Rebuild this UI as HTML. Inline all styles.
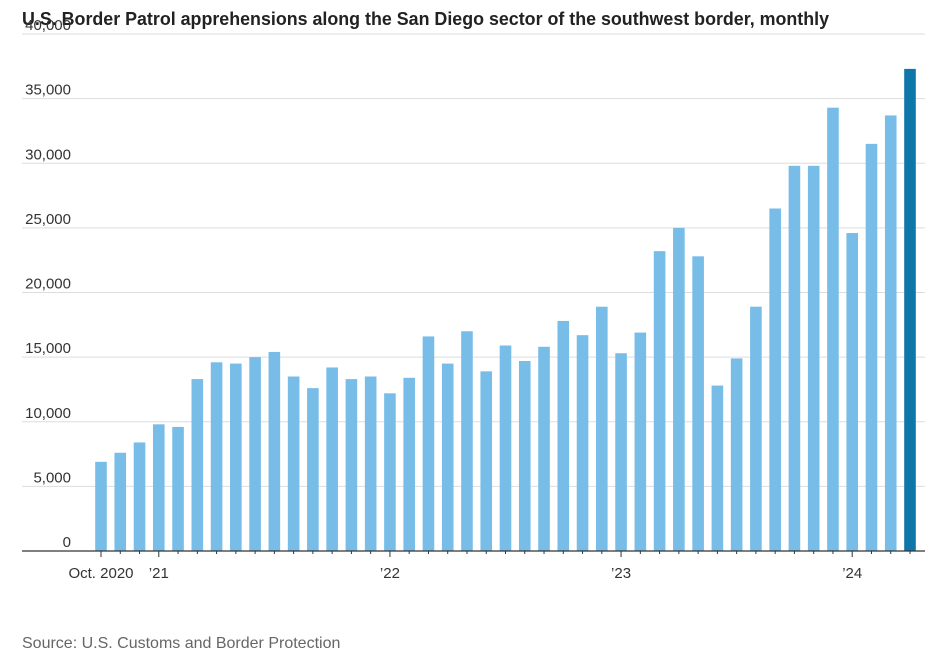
<!DOCTYPE html>
<html><head><meta charset="utf-8"><style>
body{margin:0;background:#fff;font-family:"Liberation Sans",sans-serif;}
svg text{font-family:"Liberation Sans",sans-serif;}
</style></head><body>
<svg id="chart" width="936" height="657" xmlns="http://www.w3.org/2000/svg">
<text x="22" y="25" font-size="18" font-weight="bold" fill="#222" textLength="807" lengthAdjust="spacingAndGlyphs">U.S. Border Patrol apprehensions along the San Diego sector of the southwest border, monthly</text>
<g id="grid"></g><g id="bars"></g><g id="xaxis"></g>
<text x="22" y="648" font-size="16" fill="#666">Source: U.S. Customs and Border Protection</text>
</svg>
<script>
const values=[6900,7600,8400,9800,9600,13300,14600,14500,15000,15400,13500,12600,14200,13300,13500,12200,13400,16600,14500,17000,13900,15900,14700,15800,17800,16700,18900,15300,16900,23200,25000,22800,12800,14900,18900,26500,29800,29800,34300,24600,31500,33700,37300];
const yTicks=[0,5000,10000,15000,20000,25000,30000,35000,40000];
const xLabels=[[0,"Oct. 2020"],[3,"\u201921"],[15,"\u201922"],[27,"\u201923"],[39,"\u201924"]];
const NS="http://www.w3.org/2000/svg";
const y0=551,yTop=34,yMax=40000;
const y=v=>y0-(v/yMax)*(y0-yTop);
const x=i=>101+i*(910-101)/42;
function mk(t,a,p){const e=document.createElementNS(NS,t);for(const k in a)e.setAttribute(k,a[k]);p.appendChild(e);return e;}
const grid=document.getElementById('grid');
yTicks.forEach(v=>{
 if(v>0){const l=mk('line',{x1:22,x2:925,y1:y(v),y2:y(v),stroke:'#ddd','stroke-width':1},grid);
 
 }
 const t=mk('text',{x:71,y:y(v)-4,'text-anchor':'end','font-size':15,fill:'#333'},grid);
 t.textContent=v.toLocaleString('en-US');
 
 
});
const bars=document.getElementById('bars');
values.forEach((v,i)=>{
 const r=mk('rect',{x:x(i)-5.8,y:y(v),width:11.6,height:y0-y(v),fill:i===values.length-1?'#0e76a8':'#77bde8'},bars);
 
 
});
const xa=document.getElementById('xaxis');
const ax=mk('line',{x1:22,x2:925,y1:y0,y2:y0,stroke:'#333','stroke-width':1.3},xa);


const major=xLabels.map(d=>d[0]);
values.forEach((v,i)=>{
 const tk=mk('line',{x1:x(i),x2:x(i),y1:y0,y2:y0+(major.includes(i)?6:3),stroke:'#333','stroke-width':1},xa);
 
 
});
xLabels.forEach(d=>{
 const t=mk('text',{x:x(d[0]),y:578,'text-anchor':'middle','font-size':15,fill:'#333'},xa);
 t.textContent=d[1];
 
 
});
</script>
</body></html>
